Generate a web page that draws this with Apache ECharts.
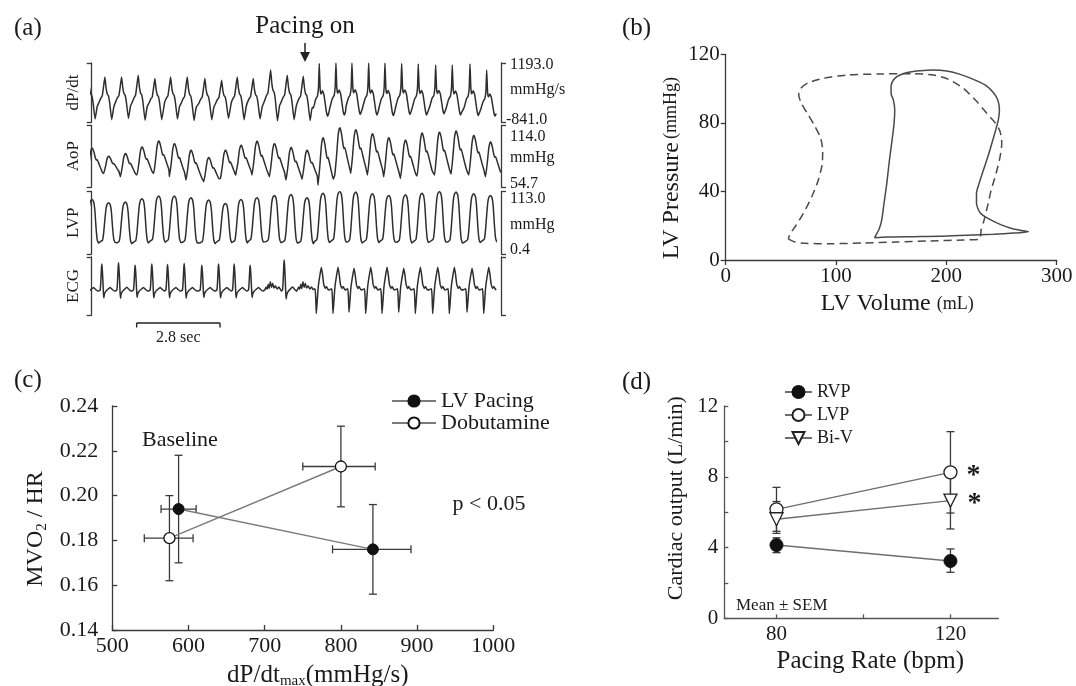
<!DOCTYPE html>
<html>
<head>
<meta charset="utf-8">
<title>Pacing figure</title>
<script src="https://cdn.jsdelivr.net/npm/echarts@6.0.0/dist/echarts.min.js"></script>
<style>
html,body{margin:0;padding:0;background:#ffffff;}
#chart{width:1076px;height:686px;}
</style>
</head>
<body>
<div id="chart"></div>
<script>
// ================= DATA =================
// ---- Panel (a): beat-by-beat readings (time of dP/dt peak, s) ----
const beatTimes = [-0.155, 0.403, 0.964, 1.522, 2.083, 2.611, 3.169, 3.763, 4.325, 4.849, 5.386, 5.971, 6.529, 7.067,
                   7.604, 8.165, 8.703, 9.264, 9.812, 10.373, 10.931, 11.515, 12.073, 12.668, 13.229];
const hemoBeatType = ['S','S','S','S','S','S','S','S','S','S','S','S','S','S','P','P','P','P','P','P','P','P','P','P','P'];
const ecgBeatType  = ['S','S','S','S','S','S','S','S','S','S','S','X','S','X','P','P','P','P','P','P','P','P','P','P','P'];
const dpdtPeak   = [700, 712, 712, 772, 656, 712, 712, 656, 597, 712, 656, 948, 772, 737,
                    1180, 1190, 1190, 1190, 1190, 1180, 1160, 1120, 1120, 1160, 950];
const dpdtTrough = [-740, -760, -720, -780, -760, -740, -790, -760, -720, -760, -740, -800, -760, -790,
                    -640, -600, -580, -600, -620, -580, -600, -560, -600, -620, -640];
const aopPeak    = [92, 84.4, 86.9, 93.3, 99, 96.5, 90.1, 83.1, 90.1, 94.9, 98.7, 96.5, 92.7, 90.1,
                    102.2, 111.8, 109.9, 106, 102.2, 99.7, 106.7, 107.6, 108.6, 104.4, 98];
const aopTrough  = [66, 67.8, 64.6, 66.2, 67.8, 64.6, 61.4, 59.8, 63, 66.2, 66.2, 64.6, 61.4, 62,
                    56.7, 66.2, 67.8, 66.2, 64.6, 63, 65.2, 66.2, 67.2, 66.2, 64.6];
const lvpPeak    = [98.7, 92.8, 93.9, 100, 104.7, 104.7, 101.8, 97.6, 91.6, 98.7, 101.8, 105.9, 107.6, 101.8,
                    110, 113, 112, 109, 106, 107, 110, 113, 112, 109, 106];
const lvpTrough  = [20, 21, 19, 20, 22, 21, 20, 19, 21, 20, 22, 21, 20, 19, 21, 22, 20, 21, 22, 20, 21, 22, 20, 21, 22];
const ecgAmp     = [1.0, 1.0, 1.05, 0.95, 1.0, 0.98, 1.02, 0.95, 1.0, 1.0, 0.95, 1.0, 1.15, 1.0,
                    1.0, 1.0, 0.95, 1.0, 1.0, 0.95, 1.0, 1.0, 1.0, 0.95, 1.0];
const ecgBaseline = [0,0,0,0,0,0,0,0,0,0,0,0,0,0,0,0,0,0,0,0,0,0,0,0,0];
// beat morphologies: [seconds from dP/dt peak, level between trough (0) and peak (1)]
const dpdtShapeSinus = [[-0.20,0.40],[-0.14,0.50],[-0.09,0.55],[-0.04,0.80],[0,1],[0.04,0.74],[0.08,0.60],[0.12,0.56],[0.16,0.40],[0.23,0.0],[0.30,0.30]];
const dpdtShapePaced = [[-0.20,0.15],[-0.12,0.32],[-0.06,0.38],[-0.025,0.55],[0,1],[0.03,0.52],[0.06,0.42],[0.11,0.48],[0.16,0.40],[0.24,0.08],[0.28,0.0],[0.32,0.06]];
const aopShape = [[-0.04,0],[0.02,0.4],[0.07,0.82],[0.11,0.98],[0.14,1],[0.19,0.86],[0.24,0.64],[0.27,0.56],[0.30,0.58],[0.35,0.45],[0.41,0.28],[0.47,0.12]];
const lvpShape = [[-0.16,0.02],[-0.08,0.06],[-0.04,0.25],[0,0.58],[0.04,0.86],[0.08,0.97],[0.13,1],[0.18,0.95],[0.22,0.76],[0.26,0.36],[0.30,0.08],[0.34,0],[0.36,0]];
const ecgShapeSinus = [[-0.20,-0.03],[-0.16,0.0],[-0.14,0.25],[-0.115,0.85],[-0.10,1],[-0.085,0.75],[-0.065,0.3],[-0.05,-0.1],[-0.035,-0.3],[-0.015,-0.15],[0.03,-0.05],[0.10,0.03],[0.18,0.10],[0.25,0.02],[0.32,-0.04]];
const ecgShapeIrregular = [[-0.20,0.0],[-0.15,0.12],[-0.12,0.03],[-0.08,0.22],[-0.05,0.06],[-0.01,0.32],[0.03,0.10],[0.07,0.26],[0.11,0.08],[0.16,0.16],[0.22,0.04],[0.28,0.12],[0.32,0.04]];
const ecgShapePaced = [[-0.20,0.02],[-0.14,0.05],[-0.12,-0.25],[-0.10,-0.9],[-0.075,-0.55],[-0.035,0.1],[0.02,0.55],[0.07,0.88],[0.11,0.6],[0.15,0.22],[0.20,0.06],[0.24,0.14],[0.28,0.05],[0.32,0.0]];
const stripLabels = ['dP/dt', 'AoP', 'LVP', 'ECG'];
const stripRanges = [[-841, 1193], [54.7, 114.0], [0.4, 113.0], [-0.96, 1.27]];
const stripScaleText = [['1193.0', 'mmHg/s', '-841.0'], ['114.0', 'mmHg', '54.7'], ['113.0', 'mmHg', '0.4']];
const pacingOnTime = 7.125;
const scaleBarStart = 1.47, scaleBarLength = 2.8;

// ---- Panel (b): pressure-volume loops ----
const solidVol = [134.8,146.0,170.1,194.3,218.5,242.7,260.8,274.4,260.8,248.7,238.1,230.6,227.3,227.3,229.7,233.6,238.1,242.1,245.1,247.2,248.1,246.6,242.7,235.1,224.5,212.5,200.4,188.3,176.2,165.6,156.5,152.0,149.9,149.9,152.0,153.2,152.6,150.8,148.4,146.0,143.5,141.4,139.0,136.6,134.8];
const solidP   = [13.0,13.4,13.6,13.8,14.4,15.0,15.7,16.5,18.1,20.8,24.1,27.6,33.1,38.9,44.7,52.5,61.2,70.0,76.8,82.1,87.5,93.3,97.6,102.1,105.4,108.3,110.2,110.8,110.4,109.5,107.5,105.0,101.5,97.2,93.3,87.5,79.7,70.0,58.3,44.7,33.1,23.3,17.9,15.0,13.0];
const dashedVol = [56.8,62.9,71.9,94.6,124.8,155.0,185.3,215.5,230.0,231.5,234.2,237.2,240.6,245.1,248.7,250.2,248.7,244.2,236.6,227.6,215.5,201.9,188.3,170.1,139.9,109.7,88.5,74.9,68.0,66.2,68.9,74.9,81.0,86.1,87.9,87.3,84.0,78.0,70.4,62.9,58.3,56.8];
const dashedP   = [12.2,10.5,9.7,9.5,9.9,10.5,11.1,11.7,12.1,17.5,23.3,31.1,40.8,50.6,60.3,68.1,74.9,80.1,85.6,92.4,100.1,105.4,107.9,108.7,108.5,107.9,106.0,103.4,100.1,96.2,91.0,84.6,77.8,71.0,63.2,55.4,46.7,36.9,27.2,19.4,15.2,12.2];

// ---- Panel (c): MVO2/HR vs dP/dtmax ----
const lvPacingX = [587, 842];
const lvPacingY = [0.194, 0.176];
const lvPacingXErr = [[564, 610], [789, 892]];
const lvPacingYErr = [[0.170, 0.218], [0.156, 0.196]];
const dobutX = [575, 800];
const dobutY = [0.181, 0.213];
const dobutXErr = [[542, 606], [750, 845]];
const dobutYErr = [[0.162, 0.200], [0.195, 0.231]];
const cXTicks = [500, 600, 700, 800, 900, 1000];
const cYTicks = [0.14, 0.16, 0.18, 0.20, 0.22, 0.24];

// ---- Panel (d): cardiac output vs pacing rate ----
const pacingRates = [80, 120];
const rvpMean = [4.14, 3.24];
const rvpErr  = [[3.71, 4.55], [2.60, 3.92]];
const lvpMean = [6.16, 8.25];
const lvpErr  = [[4.92, 7.40], [5.95, 10.55]];
const biVMean = [5.60, 6.65];
const biVErr  = [[4.80, 6.60], [5.05, 8.25]];
const dXTicks = [80, 100, 120];
const dXLabels = [80, 120];
const dYTicks = [0, 2, 4, 6, 8, 10, 12];
const dYLabels = [0, 4, 8, 12];

// ================= BUILD =================
const FONT = '"Liberation Serif","Times New Roman",serif';
const INK = '#1a1a1a';
const AXIS = '#3a3a3a';

function buildTrace(shapes, types, peaks, troughs) {
  const pts = [];
  beatTimes.forEach((T, i) => {
    shapes[types[i]].forEach(([dt, lv]) => {
      pts.push([+(T + dt).toFixed(4), troughs[i] + lv * (peaks[i] - troughs[i])]);
    });
  });
  pts.sort((a, b) => a[0] - b[0]);
  return pts;
}
const traceData = [
  buildTrace({S: dpdtShapeSinus, P: dpdtShapePaced}, hemoBeatType, dpdtPeak, dpdtTrough),
  buildTrace({S: aopShape, P: aopShape}, hemoBeatType, aopPeak, aopTrough),
  buildTrace({S: lvpShape, P: lvpShape}, hemoBeatType, lvpPeak, lvpTrough),
  buildTrace({S: ecgShapeSinus, X: ecgShapeIrregular, P: ecgShapePaced}, ecgBeatType, ecgAmp, ecgBaseline)
];
const stripGeom = [[63, 59], [125.5, 61.5], [191.5, 62.5], [257, 58]];

const grids = stripGeom.map(([top, h]) => ({left: 91.7, top: top, width: 409.3, height: h}));
grids.push({left: 725.7, top: 54.3, width: 331, height: 205.7});   // (b)
grids.push({left: 112.3, top: 406, width: 381, height: 224});      // (c)
grids.push({left: 724.3, top: 406, width: 274, height: 212.3});    // (d)
grids.forEach(g => { g.containLabel = false; g.outerBoundsMode = 'none'; });

const xAxes = [], yAxes = [], series = [];
stripGeom.forEach((g, i) => {
  xAxes.push({gridIndex: i, type: 'value', min: -0.04, max: 13.71, show: false});
});
const bracketLine = {show: true, onZero: false, lineStyle: {color: AXIS, width: 1.3}};
const bracketTick = {show: true, length: 5, lineStyle: {color: AXIS, width: 1.3}};
stripGeom.forEach((g, i) => {
  const [mn, mx] = stripRanges[i];
  yAxes.push({gridIndex: i, type: 'value', position: 'left', min: mn, max: mx, interval: mx - mn,
    axisLine: bracketLine, axisTick: bracketTick, axisLabel: {show: false}, splitLine: {show: false},
    name: stripLabels[i], nameLocation: 'middle', nameRotate: 90, nameGap: 10,
    nameTextStyle: {fontFamily: FONT, fontSize: 17, color: INK}});
});
stripGeom.forEach((g, i) => {
  const [mn, mx] = stripRanges[i];
  yAxes.push({gridIndex: i, type: 'value', position: 'right', min: mn, max: mx, interval: mx - mn,
    axisLine: bracketLine, axisTick: bracketTick, axisLabel: {show: false}, splitLine: {show: false}});
});
traceData.forEach((d, i) => {
  series.push({type: 'line', name: 'trace ' + stripLabels[i], xAxisIndex: i, yAxisIndex: i, data: d,
    showSymbol: false, symbol: 'none', clip: true, smooth: 0.12,
    lineStyle: {color: '#2e2e2e', width: 1.5}, silent: true});
});

const labelStyle = (size) => ({fontFamily: FONT, fontSize: size, color: INK});
// (b)
xAxes.push({gridIndex: 4, type: 'value', min: 0, max: 300, interval: 100,
  axisLine: {onZero: false, lineStyle: {color: AXIS, width: 1.3}},
  axisTick: {length: 5, lineStyle: {color: AXIS, width: 1.3}},
  axisLabel: Object.assign({margin: 6}, labelStyle(21)), splitLine: {show: false},
  name: '{a|LV Volume}  {b|(mL)}', nameLocation: 'middle', nameGap: 32,
  nameTextStyle: {padding: [0, 0, 0, 12], rich: {a: labelStyle(24), b: labelStyle(18)}}});
yAxes.push({gridIndex: 4, type: 'value', min: 0, max: 120, interval: 40,
  axisLine: {onZero: false, lineStyle: {color: AXIS, width: 1.3}},
  axisTick: {length: 5, lineStyle: {color: AXIS, width: 1.3}},
  axisLabel: Object.assign({margin: 6}, labelStyle(21)), splitLine: {show: false},
  name: '{a|LV Pressure} {b|(mmHg)}', nameLocation: 'middle', nameRotate: 90, nameGap: 42,
  nameTextStyle: {padding: [0, 22, 0, 0], rich: {a: labelStyle(24), b: labelStyle(18)}}});
series.push({type: 'line', name: 'loop-solid', xAxisIndex: 4, yAxisIndex: 8,
  data: solidVol.map((v, i) => [v, solidP[i]]), showSymbol: false, symbol: 'none', smooth: 0.25,
  lineStyle: {color: '#4a4a4a', width: 1.5}, silent: true});
series.push({type: 'line', name: 'loop-dashed', xAxisIndex: 4, yAxisIndex: 8,
  data: dashedVol.map((v, i) => [v, dashedP[i]]), showSymbol: false, symbol: 'none', smooth: 0.25,
  lineStyle: {color: '#4a4a4a', width: 1.5, type: [8, 5]}, silent: true});

// (c)
xAxes.push({gridIndex: 5, type: 'value', min: cXTicks[0], max: cXTicks[cXTicks.length - 1], interval: 100,
  axisLine: {onZero: false, lineStyle: {color: AXIS, width: 1.3}},
  axisTick: {inside: true, length: 5, lineStyle: {color: AXIS, width: 1.3}},
  axisLabel: Object.assign({margin: 5, formatter: v => String(v)}, labelStyle(22)), splitLine: {show: false},
  name: '{a|dP/dt}{s|max}{a|(mmHg/s)}', nameLocation: 'middle', nameGap: 31,
  nameTextStyle: {padding: [0, 0, 0, 30], rich: {a: Object.assign({lineHeight: 28}, labelStyle(25)),
    s: Object.assign({lineHeight: 14, verticalAlign: 'bottom'}, labelStyle(15))}}});
yAxes.push({gridIndex: 5, type: 'value', min: cYTicks[0], max: cYTicks[cYTicks.length - 1], interval: 0.02,
  axisLine: {onZero: false, lineStyle: {color: AXIS, width: 1.3}},
  axisTick: {inside: true, length: 5, lineStyle: {color: AXIS, width: 1.3}},
  axisLabel: Object.assign({margin: 14, formatter: v => v.toFixed(2)}, labelStyle(22)), splitLine: {show: false},
  name: '{a|MVO}{s|2}{a| / HR}', nameLocation: 'middle', nameRotate: 90, nameGap: 63,
  nameTextStyle: {padding: [0, 22, 0, 0], rich: {a: Object.assign({lineHeight: 28}, labelStyle(24)),
    s: Object.assign({lineHeight: 14, verticalAlign: 'bottom'}, labelStyle(15))}}});

function errXY(params, api) {
  const x = api.value(0), y = api.value(1);
  const c = api.coord([x, y]);
  const lo = api.coord([x, api.value(4)]), hi = api.coord([x, api.value(5)]);
  const le = api.coord([api.value(2), y]), ri = api.coord([api.value(3), y]);
  const st = {stroke: '#3a3a3a', lineWidth: 1.3, fill: null};
  const cap = 4;
  const L = (x1, y1, x2, y2) => ({type: 'line', shape: {x1, y1, x2, y2}, style: st});
  return {type: 'group', children: [
    L(c[0], lo[1], c[0], hi[1]), L(c[0] - cap, lo[1], c[0] + cap, lo[1]), L(c[0] - cap, hi[1], c[0] + cap, hi[1]),
    L(le[0], c[1], ri[0], c[1]), L(le[0], c[1] - cap, le[0], c[1] + cap), L(ri[0], c[1] - cap, ri[0], c[1] + cap)]};
}
function errY(params, api) {
  const x = api.value(0), y = api.value(1);
  const lo = api.coord([x, api.value(2)]), hi = api.coord([x, api.value(3)]);
  const st = {stroke: '#3a3a3a', lineWidth: 1.3, fill: null};
  const cap = 4;
  const L = (x1, y1, x2, y2) => ({type: 'line', shape: {x1, y1, x2, y2}, style: st});
  return {type: 'group', children: [
    L(lo[0], lo[1], hi[0], hi[1]), L(lo[0] - cap, lo[1], lo[0] + cap, lo[1]), L(hi[0] - cap, hi[1], hi[0] + cap, hi[1])]};
}
series.push({type: 'custom', name: 'LV Pacing err', xAxisIndex: 5, yAxisIndex: 9, renderItem: errXY, clip: false, z: 1,
  encode: {x: 0, y: 1}, silent: true,
  data: lvPacingX.map((x, i) => [x, lvPacingY[i], lvPacingXErr[i][0], lvPacingXErr[i][1], lvPacingYErr[i][0], lvPacingYErr[i][1]])});
series.push({type: 'custom', name: 'Dobutamine err', xAxisIndex: 5, yAxisIndex: 9, renderItem: errXY, clip: false, z: 1,
  encode: {x: 0, y: 1}, silent: true,
  data: dobutX.map((x, i) => [x, dobutY[i], dobutXErr[i][0], dobutXErr[i][1], dobutYErr[i][0], dobutYErr[i][1]])});
series.push({type: 'line', name: 'LV Pacing', xAxisIndex: 5, yAxisIndex: 9, z: 3,
  data: lvPacingX.map((x, i) => [x, lvPacingY[i]]), symbol: 'circle', symbolSize: 11,
  itemStyle: {color: '#111', borderColor: '#111', borderWidth: 1}, lineStyle: {color: '#7a7a7a', width: 1.4}});
series.push({type: 'line', name: 'Dobutamine', xAxisIndex: 5, yAxisIndex: 9, z: 3,
  data: dobutX.map((x, i) => [x, dobutY[i]]), symbol: 'circle', symbolSize: 11,
  itemStyle: {color: '#ffffff', borderColor: '#111', borderWidth: 1.3}, lineStyle: {color: '#7a7a7a', width: 1.4}});

// (d)
xAxes.push({gridIndex: 6, type: 'value', min: 68, max: 131, splitNumber: 3,
  axisLine: {onZero: false, lineStyle: {color: '#555', width: 1.3}},
  axisTick: {inside: true, length: 4, customValues: dXTicks, lineStyle: {color: '#555', width: 1.3}},
  axisLabel: Object.assign({margin: 6, customValues: dXLabels}, labelStyle(21)),
  splitLine: {show: false},
  name: 'Pacing Rate (bpm)', nameLocation: 'middle', nameGap: 31,
  nameTextStyle: Object.assign({padding: [0, 0, 0, 18]}, labelStyle(25))});
yAxes.push({gridIndex: 6, type: 'value', min: dYTicks[0], max: dYTicks[dYTicks.length - 1], interval: 2,
  axisLine: {onZero: false, lineStyle: {color: '#555', width: 1.3}},
  axisTick: {inside: true, length: 4, lineStyle: {color: '#555', width: 1.3}},
  axisLabel: Object.assign({margin: 6, formatter: v => (dYLabels.indexOf(v) >= 0 ? String(v) : '')}, labelStyle(21)),
  splitLine: {show: false},
  name: 'Cardiac output (L/min)', nameLocation: 'middle', nameRotate: 90, nameGap: 37,
  nameTextStyle: Object.assign({padding: [0, 0, 0, 28]}, labelStyle(22))});
[[rvpMean, rvpErr, 'RVP'], [lvpMean, lvpErr, 'LVP'], [biVMean, biVErr, 'Bi-V']].forEach(([m, e, nm]) => {
  series.push({type: 'custom', name: nm + ' err', xAxisIndex: 6, yAxisIndex: 10, renderItem: errY, clip: false, z: 1,
    encode: {x: 0, y: 1}, silent: true, data: pacingRates.map((x, i) => [x, m[i], e[i][0], e[i][1]])});
});
series.push({type: 'line', name: 'RVP', xAxisIndex: 6, yAxisIndex: 10, z: 3,
  data: pacingRates.map((x, i) => [x, rvpMean[i]]), symbol: 'circle', symbolSize: 13,
  itemStyle: {color: '#111', borderColor: '#111', borderWidth: 1}, lineStyle: {color: '#6e6e6e', width: 1.4}});
series.push({type: 'line', name: 'LVP', xAxisIndex: 6, yAxisIndex: 10, z: 4,
  data: pacingRates.map((x, i) => [x, lvpMean[i]]), symbol: 'circle', symbolSize: 13,
  itemStyle: {color: '#ffffff', borderColor: '#222', borderWidth: 1.3}, lineStyle: {color: '#6e6e6e', width: 1.4}});
series.push({type: 'line', name: 'Bi-V', xAxisIndex: 6, yAxisIndex: 10, z: 4,
  data: pacingRates.map((x, i) => [x, biVMean[i]]), symbol: 'triangle', symbolRotate: 180, symbolSize: 13,
  itemStyle: {color: '#ffffff', borderColor: '#222', borderWidth: 1.3}, lineStyle: {color: '#6e6e6e', width: 1.4}});

const option = {
  animation: false,
  backgroundColor: '#ffffff',
  textStyle: {fontFamily: FONT},
  grid: grids,
  xAxis: xAxes,
  yAxis: yAxes,
  legend: [
    {data: ['LV Pacing', 'Dobutamine'], orient: 'vertical', left: 391, top: 390, itemWidth: 44, itemHeight: 14,
      itemGap: 0, selectedMode: false, textStyle: labelStyle(22), padding: 0},
    {data: ['RVP', 'LVP', 'Bi-V'], orient: 'vertical', left: 784, top: 383, itemWidth: 27, itemHeight: 15,
      itemGap: 5, selectedMode: false, textStyle: labelStyle(18), padding: 0}
  ],
  series: series
};

const chart = echarts.init(document.getElementById('chart'), null, {renderer: 'canvas'});
chart.setOption(option);

// ================= ANNOTATIONS =================
const G = [];
const txt = (x, y, text, size, align, vAlign, weight) => G.push({type: 'text', x: x, y: y, silent: true, z: 10,
  style: {text: text, fill: INK, font: (weight || 'normal') + ' ' + size + 'px ' + FONT, align: align || 'left', verticalAlign: vAlign || 'middle'}});
const seg = (x1, y1, x2, y2, w) => G.push({type: 'line', silent: true, z: 10, shape: {x1, y1, x2, y2}, style: {stroke: '#222', lineWidth: w || 1.3}});

txt(14, 28, '(a)', 25); txt(622, 28, '(b)', 25); txt(14, 380, '(c)', 25); txt(622, 382, '(d)', 25);

// Pacing on arrow
const pX = chart.convertToPixel({xAxisIndex: 0}, pacingOnTime);
txt(pX, 26, 'Pacing on', 25, 'center');
seg(pX, 43, pX, 54, 1.5);
G.push({type: 'polygon', silent: true, z: 10, shape: {points: [[pX - 5, 52], [pX + 5, 52], [pX, 62]]}, style: {fill: '#222'}});

// Right-hand scale labels of the traces
const scaleY = [[65, 90, 120], [136.5, 158, 184], [199, 225, 250]];
stripScaleText.forEach((arr, i) => {
  arr.forEach((s, k) => txt(s.charAt(0) === '-' ? 506 : 510, scaleY[i][k], s, 16));
});

// 2.8 sec scale bar
const sb0 = chart.convertToPixel({xAxisIndex: 0}, scaleBarStart);
const sb1 = chart.convertToPixel({xAxisIndex: 0}, scaleBarStart + scaleBarLength);
seg(sb0, 323, sb1, 323, 1.4); seg(sb0, 323, sb0, 327.5, 1.4); seg(sb1, 323, sb1, 327.5, 1.4);
txt((sb0 + sb1) / 2, 338, scaleBarLength.toFixed(1) + ' sec', 16, 'center');

// Panel (c) notes
txt(180, 440, 'Baseline', 22, 'center');
txt(489, 504, 'p < 0.05', 22, 'center');

// Panel (d) notes
txt(736, 606, 'Mean \u00b1 SEM', 17, 'left');
const ax120 = chart.convertToPixel({xAxisIndex: 6}, pacingRates[1]);
txt(ax120 + 23, chart.convertToPixel({yAxisIndex: 10}, lvpMean[1]) + 3, '*', 28, 'center', 'middle', 'bold');
txt(ax120 + 24, chart.convertToPixel({yAxisIndex: 10}, biVMean[1]) + 3, '*', 28, 'center', 'middle', 'bold');

chart.setOption({graphic: {elements: G}});
</script>
</body>
</html>
